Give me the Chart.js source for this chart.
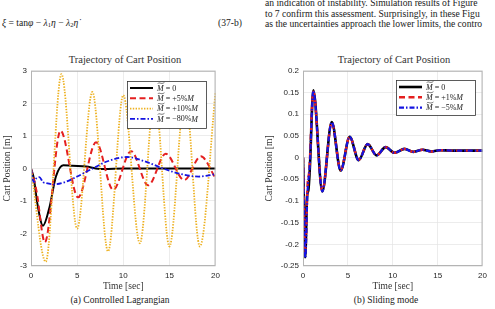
<!DOCTYPE html>
<html>
<head>
<meta charset="utf-8">
<script src="https://cdn.jsdelivr.net/npm/chart.js@4.4.0/dist/chart.umd.min.js"></script>
<style>
body{margin:0;width:495px;height:309px;background:#fff;position:relative;overflow:hidden;font-family:"Liberation Serif",serif;color:#1a1a1a}
.t{position:absolute;white-space:nowrap;font-size:9.6px;line-height:10px}
.c{position:absolute;white-space:nowrap;font-size:9.5px;line-height:11px;text-align:center;width:240px;color:#333}
.h{font-size:10.5px}
sub{font-size:6.5px;vertical-align:-1px}
canvas{position:absolute}
</style>
</head>
<body>
<div class="t" style="left:2px;top:18px"><i>ξ</i> = tan<i>φ</i> − <i>λ</i><sub>1</sub><i>η</i> − <i>λ</i><sub>2</sub><i>η̇</i></div>
<div class="t" style="left:218px;top:18px">(37-b)</div>
<div class="t" style="left:265px;top:-2px">an indication of instability. Simulation results of Figure</div>
<div class="t" style="left:265px;top:9px">to 7 confirm this assessment. Surprisingly, in these Figu</div>
<div class="t" style="left:265px;top:19px">as the uncertainties approach the lower limits, the contro</div>

<div class="c h" style="left:5px;top:54px">Trajectory of Cart Position</div>
<div class="c h" style="left:274px;top:54px">Trajectory of Cart Position</div>
<canvas id="chartA" width="225" height="230" style="left:0;top:62px"></canvas>
<canvas id="chartB" width="230" height="230" style="left:262px;top:62px"></canvas>
<div class="c" style="left:0;top:295px;color:#222">(a) Controlled Lagrangian</div>
<div class="c" style="left:266px;top:295px;color:#222">(b) Sliding mode</div>

<script>
// ticks
var xTicks = [0, 5, 10, 15, 20];
var yTicksA = [-3, -2, -1, 0, 1, 2, 3];
var yTicksB = [-0.25, -0.2, -0.15, -0.1, -0.05, 0, 0.05, 0.1, 0.15, 0.2];

// (a) controlled lagrangian
var lagZeroT = [0, 0.3, 0.7, 1.3, 2.0, 2.7, 3.5, 4.5, 6, 7, 7.9, 10, 20];
var lagZeroY = [0, -0.3, -1.1, -1.76, -1.2, -0.25, 0.1, 0.08, 0.06, 0.0, -0.02, 0, 0];
var lagP5T = [0, 0.6, 1.5, 3.2, 5.1, 7.05, 8.9, 10.85, 12.7, 14.6, 16.6, 18.4, 20];
var lagP5Y = [0, -0.7, -2.27, 1.16, -0.89, 0.8, -0.66, 0.53, -0.52, 0.45, -0.36, 0.37, -0.3];
var lagP10T = [0, 1.6, 3.3, 5.0, 6.65, 8.35, 10.0, 11.8, 13.4, 15.0, 16.7, 18.3, 20];
var lagP10Y = [0, -2.87, 2.9, -1.85, 2.35, -2.55, 2.25, -2.3, 2.3, -2.4, 2.3, -2.4, 2.35];
var lagM80T = [0, 0.3, 0.6, 0.9, 1.3, 1.6, 2.5, 3.6, 5, 6.7, 8.3, 10.4, 12.5, 14.3, 16.2, 18.2, 20];
var lagM80Y = [0, -0.42, -0.3, -0.27, -0.42, -0.45, -0.49, -0.43, -0.25, 0, 0.22, 0.35, 0.2, 0, -0.17, -0.25, -0.18];

// (b) sliding mode
var smZeroT = [0, 0.25, 0.45, 0.6, 0.75, 1.15, 2.15, 3.2, 4.2, 5.2, 6.2, 7.2, 8.2, 9.2, 10.2, 11.3, 12.3, 13.3, 14.3, 15.3, 16.5, 20];
var smZeroY = [0, -0.23, -0.09, -0.075, -0.03, 0.155, -0.078, 0.082, -0.03, 0.048, -0.006, 0.031, 0.005, 0.024, 0.011, 0.02, 0.013, 0.018, 0.014, 0.017, 0.016, 0.016];
var smP1T = [0, 0.25, 0.5, 0.7, 1.15, 2.15, 3.2, 4.2, 5.2, 6.2, 7.2, 8.2, 9.2, 10.2, 11.3, 12.3, 13.3, 14.3, 15.3, 16.5, 20];
var smP1Y = [0, -0.22, -0.065, -0.03, 0.152, -0.077, 0.081, -0.029, 0.048, -0.005, 0.031, 0.005, 0.024, 0.011, 0.02, 0.013, 0.018, 0.014, 0.017, 0.016, 0.016];
var smM5T = [0, 0.25, 0.5, 0.75, 1.15, 2.15, 3.2, 4.2, 5.2, 6.2, 7.2, 8.2, 9.2, 10.2, 11.3, 12.3, 13.3, 14.3, 15.3, 16.5, 20];
var smM5Y = [0, -0.232, -0.08, -0.02, 0.154, -0.078, 0.082, -0.03, 0.048, -0.006, 0.031, 0.005, 0.024, 0.011, 0.02, 0.013, 0.018, 0.014, 0.017, 0.016, 0.016];

function pts(t, y){
  var out = [];
  for (var i in t) out.push({x: t[i], y: y[i]});
  return out;
}

function drawMLabel(ctx, x, y, val){
  ctx.fillStyle = '#1a1a1a';
  ctx.textBaseline = 'middle';
  ctx.font = 'italic 8px "Liberation Serif"';
  ctx.fillText('M', x, y + 0.5);
  var w = ctx.measureText('M').width;
  var ty = y - 5;
  ctx.beginPath();
  ctx.lineWidth = 0.6;
  ctx.strokeStyle = '#1a1a1a';
  ctx.moveTo(x + 0.8, ty + 0.6);
  ctx.bezierCurveTo(x + w*0.35, ty - 1.6, x + w*0.6, ty + 2, x + w + 0.8, ty - 0.6);
  ctx.stroke();
  x += w;
  ctx.font = '8px "Liberation Serif"';
  var s = ' = ' + val;
  ctx.fillText(s, x, y + 0.5);
  x += ctx.measureText(s).width;
  if (val !== '0') {
    ctx.font = 'italic 8px "Liberation Serif"';
    ctx.fillText('M', x, y + 0.5);
  }
}

var frameAndLegend = {
  id: 'frameAndLegend',
  afterDatasetsDraw: function(chart, args, opts){
    var a = chart.chartArea, ctx = chart.ctx;
    ctx.save();
    ctx.strokeStyle = '#b4b4b4';
    ctx.lineWidth = 1;
    ctx.strokeRect(a.left + 0.5, a.top + 0.5, a.right - a.left - 1, a.bottom - a.top - 1);
    var bx = Math.round(a.right - opts.right - opts.w), by = Math.round(a.top + opts.top);
    ctx.fillStyle = '#fff';
    ctx.fillRect(bx, by, opts.w, opts.h);
    ctx.strokeStyle = '#333';
    ctx.lineWidth = 0.8;
    ctx.strokeRect(bx + 0.5, by + 0.5, opts.w, opts.h);
    chart.data.datasets.forEach(function(ds, i){
      var y = by + opts.row0 + i*opts.rowH;
      ctx.beginPath();
      ctx.setLineDash(ds.borderDash || []);
      ctx.strokeStyle = ds.borderColor;
      ctx.lineWidth = ds.borderWidth;
      ctx.moveTo(bx + 3, y);
      ctx.lineTo(bx + 26, y);
      ctx.stroke();
      ctx.setLineDash([]);
      drawMLabel(ctx, bx + 30, y, ds.mval);
    });
    ctx.restore();
  }
};

function makeChart(id, datasets, yMin, yMax, yTicks, yWidth, padRight, legend){
  return new Chart(document.getElementById(id), {
    type: 'line',
    data: {datasets: datasets},
    plugins: [frameAndLegend],
    options: {
      responsive: false,
      animation: false,
      layout: {padding: {top: 6, right: padRight, left: 0, bottom: 0}},
      elements: {point: {radius: 0}, line: {cubicInterpolationMode: 'monotone', borderCapStyle: 'butt'}},
      plugins: {legend: {display: false}, tooltip: {enabled: false}, frameAndLegend: legend},
      scales: {
        x: {
          type: 'linear', min: 0, max: 20,
          afterBuildTicks: function(s){ s.ticks = xTicks.map(function(v){ return {value: v}; }); },
          afterFit: function(s){ s.height = 26; },
          grid: {color: '#e4e4e4', lineWidth: 0.7, drawTicks: false},
          border: {display: false},
          ticks: {padding: 5, color: '#262626', font: {family: '"Liberation Sans"', size: 8}, maxRotation: 0},
          title: {display: true, text: 'Time [sec]', color: '#333', padding: {top: 0, bottom: 0}, font: {family: '"Liberation Serif"', size: 9.5}}
        },
        y: {
          type: 'linear', min: yMin, max: yMax,
          afterBuildTicks: function(s){ s.ticks = yTicks.map(function(v){ return {value: v}; }); },
          afterFit: function(s){ s.width = yWidth; },
          grid: {color: '#e4e4e4', lineWidth: 0.7, drawTicks: false},
          border: {display: false},
          ticks: {padding: 4, color: '#262626', font: {family: '"Liberation Sans"', size: 8},
            callback: function(v){ return String(Math.round(v*100)/100); }},
          title: {display: true, text: 'Cart Position [m]', color: '#333', padding: {top: 2, bottom: 0}, font: {family: '"Liberation Serif"', size: 9.5}}
        }
      }
    }
  });
}

makeChart('chartA', [
  {label: 'M = 0', mval: '0', data: pts(lagZeroT, lagZeroY), borderColor: '#000', borderWidth: 2, order: 4},
  {label: 'M = +5%M', mval: '+5%', data: pts(lagP5T, lagP5Y), borderColor: 'rgb(228,32,32)', borderWidth: 2, borderDash: [6, 3.5], order: 3},
  {label: 'M = +10%M', mval: '+10%', data: pts(lagP10T, lagP10Y), borderColor: '#EDB120', borderWidth: 1.8, borderDash: [1.4, 1.4], order: 2},
  {label: 'M = -80%M', mval: '\u221280%', data: pts(lagM80T, lagM80Y), borderColor: 'rgb(20,20,225)', borderWidth: 1.8, borderDash: [5, 2, 1.5, 2], order: 1}
], -3, 3, yTicksA, 31, 6, {w: 79, h: 47, right: 10, top: 10, row0: 7, rowH: 10.3});

makeChart('chartB', [
  {label: 'M = 0', mval: '0', data: pts(smZeroT, smZeroY), borderColor: '#000', borderWidth: 2.6, order: 3},
  {label: 'M = +1%M', mval: '+1%', data: pts(smP1T, smP1Y), borderColor: 'rgb(228,32,32)', borderWidth: 2.4, borderDash: [6, 3.5], order: 2},
  {label: 'M = -5%M', mval: '\u22125%', data: pts(smM5T, smM5Y), borderColor: 'rgb(20,20,225)', borderWidth: 2.2, borderDash: [5, 2, 1.5, 2], order: 1}
], -0.25, 0.2, yTicksB, 41, 7, {w: 79, h: 35, right: 8, top: 9, row0: 7, rowH: 10.3});
</script>
</body>
</html>
